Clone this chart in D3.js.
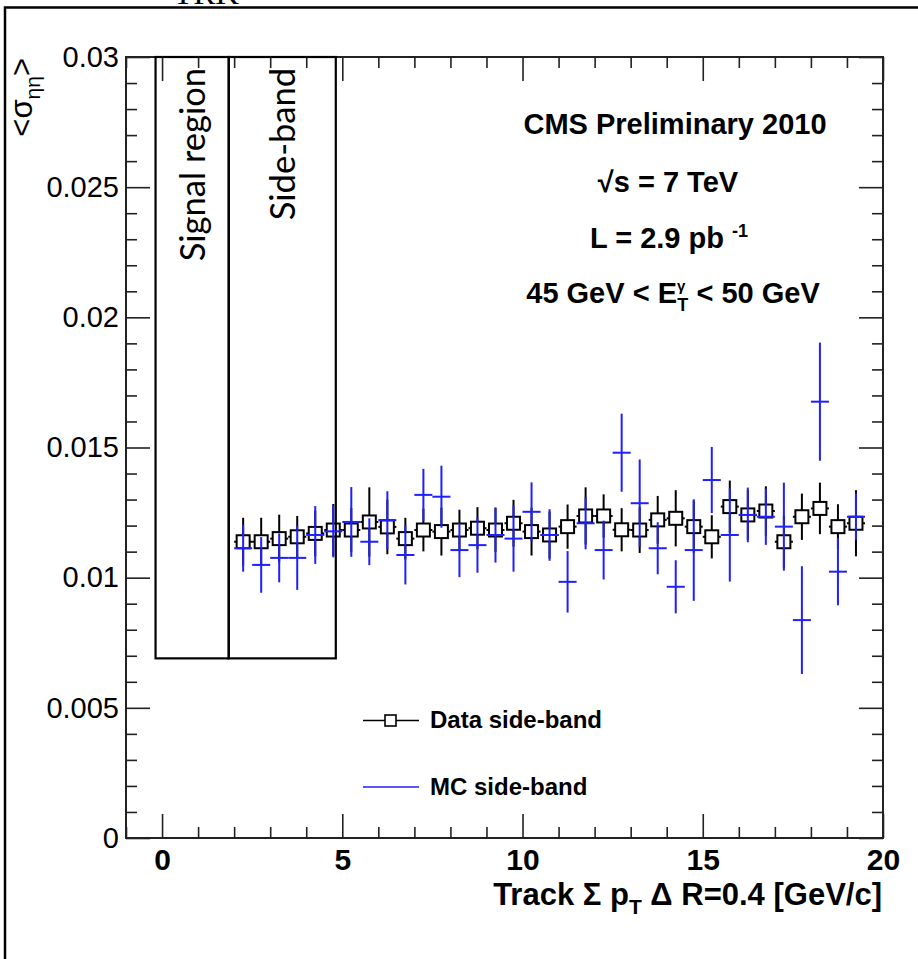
<!DOCTYPE html>
<html>
<head>
<meta charset="utf-8">
<script src="https://cdn.jsdelivr.net/npm/d3@7"></script>
<style>
  html, body { margin: 0; padding: 0; background: #fff; }
  svg { display: block; }
</style>
</head>
<body>
<svg id="chart" width="918" height="959"></svg>
<script>
// Bin centres of the track-isolation histogram [GeV/c]
const binCenters = [2.25, 2.75, 3.25, 3.75, 4.25, 4.75, 5.25, 5.75, 6.25, 6.75,
  7.25, 7.75, 8.25, 8.75, 9.25, 9.75, 10.25, 10.75, 11.25, 11.75,
  12.25, 12.75, 13.25, 13.75, 14.25, 14.75, 15.25, 15.75, 16.25, 16.75,
  17.25, 17.75, 18.25, 18.75, 19.25];
const binHalfWidth = 0.25;

// Data side-band: mean sigma_ieta_ieta and its uncertainty
const dataMean = [0.01138, 0.01138, 0.01150, 0.01157, 0.01170, 0.01183, 0.01183, 0.01214, 0.01195, 0.01150,
  0.01183, 0.01177, 0.01183, 0.01190, 0.01183, 0.01209, 0.01177, 0.01164, 0.01196, 0.01237,
  0.01237, 0.01184, 0.01183, 0.01222, 0.01228, 0.01196, 0.01157, 0.01273, 0.01241, 0.01256,
  0.01138, 0.01234, 0.01266, 0.01196, 0.01209];
const dataErr = [0.00092, 0.00092, 0.00092, 0.00080, 0.00088, 0.00100, 0.00085, 0.00133, 0.00105, 0.00080,
  0.00082, 0.00092, 0.00078, 0.00081, 0.00085, 0.00090, 0.00092, 0.00090, 0.00085, 0.00110,
  0.00083, 0.00083, 0.00088, 0.00092, 0.00108, 0.00100, 0.00083, 0.00100, 0.00095, 0.00095,
  0.00100, 0.00089, 0.00099, 0.00086, 0.00127];

// MC side-band
const mcMean = [0.01113, 0.01049, 0.01076, 0.01076, 0.01164, 0.01178, 0.01214, 0.01138, 0.01221, 0.01087,
  0.01318, 0.01311, 0.01106, 0.01125, 0.01164, 0.01150, 0.01253, 0.01164, 0.00984, 0.01209,
  0.01106, 0.01480, 0.01286, 0.01113, 0.00965, 0.01106, 0.01375, 0.01164, 0.01241, 0.01234,
  0.01196, 0.00837, 0.01676, 0.01023, 0.01234];
const mcErr = [0.00090, 0.00107, 0.00094, 0.00123, 0.00111, 0.00100, 0.00134, 0.00090, 0.00111, 0.00113,
  0.00100, 0.00119, 0.00104, 0.00106, 0.00106, 0.00127, 0.00113, 0.00099, 0.00118, 0.00100,
  0.00113, 0.00150, 0.00168, 0.00100, 0.00102, 0.00195, 0.00127, 0.00179, 0.00105, 0.00108,
  0.00169, 0.00207, 0.00227, 0.00129, 0.00090];

// Axis ticks and labels
const xMajorTicks = [0, 5, 10, 15, 20];
const xTickLabels = ["0", "5", "10", "15", "20"];
const xMinorTicks = [-1, 1, 2, 3, 4, 6, 7, 8, 9, 11, 12, 13, 14, 16, 17, 18, 19];
const yMajorTicks = [0, 0.005, 0.01, 0.015, 0.02, 0.025, 0.03];
const yTickLabels = ["0", "0.005", "0.01", "0.015", "0.02", "0.025", "0.03"];
const yMinorTicks = [0.001, 0.002, 0.003, 0.004, 0.006, 0.007, 0.008, 0.009,
  0.011, 0.012, 0.013, 0.014, 0.016, 0.017, 0.018, 0.019,
  0.021, 0.022, 0.023, 0.024, 0.026, 0.027, 0.028, 0.029];

// Region boxes (x range, lower edge) and labels
const regionNames = ["Signal region", "Side-band"];
const regionX = [[-0.18, 1.85], [1.85, 4.82]];
const regionYmin = 0.0069;

const legendLabels = ["Data side-band", "MC side-band"];

const svg = d3.select("#chart");
const sans = "'Liberation Sans', Arial, Helvetica, sans-serif";
const mcColor = "#1f1fff";

const plot = { left: 126, right: 883, top: 57, bottom: 838 };
const x = d3.scaleLinear().domain([-1, 20]).range([plot.left, plot.right]);
const y = d3.scaleLinear().domain([0, 0.03]).range([plot.bottom, plot.top]);

// Outer slide frame and the clipped title fragment above it
svg.append("rect")
  .attr("x", 5).attr("y", 7.5).attr("width", 1000).attr("height", 1000)
  .attr("fill", "none").attr("stroke", "#000").attr("stroke-width", 2.5);
svg.append("text")
  .attr("x", 173).attr("y", 4)
  .attr("font-family", "'Liberation Serif', 'Times New Roman', serif")
  .attr("font-size", 33).attr("fill", "#000")
  .text("TRK");

// Axes (ROOT style: ticks pointing inwards on all four sides)
function styleAxis(g) {
  g.select(".domain").remove();
  g.selectAll(".tick line").attr("stroke", "#222").attr("stroke-width", 1.6);
}
const xMajorFmt = (d, i) => xTickLabels[i];
const yMajorFmt = (d, i) => yTickLabels[i];

svg.append("g").attr("transform", `translate(0,${plot.bottom})`)
  .call(d3.axisBottom(x).tickValues(xMajorTicks).tickFormat(xMajorFmt)
    .tickSizeInner(-24).tickSizeOuter(0).tickPadding(11))
  .call(styleAxis)
  .call(g => g.selectAll("text").attr("font-family", sans).attr("font-weight", "bold")
    .attr("font-size", 30).attr("fill", "#000"));
svg.append("g").attr("transform", `translate(0,${plot.bottom})`)
  .call(d3.axisBottom(x).tickValues(xMinorTicks).tickFormat("").tickSizeInner(-11).tickSizeOuter(0))
  .call(styleAxis);
svg.append("g").attr("transform", `translate(0,${plot.top})`)
  .call(d3.axisTop(x).tickValues(xMajorTicks).tickFormat("").tickSizeInner(-24).tickSizeOuter(0))
  .call(styleAxis);
svg.append("g").attr("transform", `translate(0,${plot.top})`)
  .call(d3.axisTop(x).tickValues(xMinorTicks).tickFormat("").tickSizeInner(-11).tickSizeOuter(0))
  .call(styleAxis);

svg.append("g").attr("transform", `translate(${plot.left},0)`)
  .call(d3.axisLeft(y).tickValues(yMajorTicks).tickFormat(yMajorFmt)
    .tickSizeInner(-24).tickSizeOuter(0).tickPadding(7))
  .call(styleAxis)
  .call(g => g.selectAll("text").attr("font-family", sans)
    .attr("font-size", 29).attr("fill", "#000"));
svg.append("g").attr("transform", `translate(${plot.left},0)`)
  .call(d3.axisLeft(y).tickValues(yMinorTicks).tickFormat("").tickSizeInner(-11).tickSizeOuter(0))
  .call(styleAxis);
svg.append("g").attr("transform", `translate(${plot.right},0)`)
  .call(d3.axisRight(y).tickValues(yMajorTicks).tickFormat("").tickSizeInner(-24).tickSizeOuter(0))
  .call(styleAxis);
svg.append("g").attr("transform", `translate(${plot.right},0)`)
  .call(d3.axisRight(y).tickValues(yMinorTicks).tickFormat("").tickSizeInner(-11).tickSizeOuter(0))
  .call(styleAxis);

// Plot frame
svg.append("rect")
  .attr("x", plot.left).attr("y", plot.top)
  .attr("width", plot.right - plot.left).attr("height", plot.bottom - plot.top)
  .attr("fill", "none").attr("stroke", "#222").attr("stroke-width", 2);

// Axis titles
const xTitle = svg.append("text")
  .attr("x", 882).attr("y", 905).attr("text-anchor", "end")
  .attr("font-family", sans).attr("font-weight", "bold").attr("font-size", 31).attr("fill", "#000");
xTitle.append("tspan").text("Track \u03a3 p");
xTitle.append("tspan").attr("font-size", 21).attr("dy", 9).text("T");
xTitle.append("tspan").attr("dy", -9).text(" \u0394 R=0.4 [GeV/c]");

const yTitle = svg.append("text")
  .attr("transform", "translate(32,58) rotate(-90)").attr("text-anchor", "end")
  .attr("font-family", sans).attr("font-size", 31).attr("fill", "#000");
yTitle.append("tspan").text("<\u03c3");
yTitle.append("tspan").attr("font-size", 21).attr("dy", 8).text("\u03b7\u03b7");
yTitle.append("tspan").attr("dy", -8).text(">");

// Signal-region and side-band boxes
const regions = regionNames.map((name, i) => ({ name, x0: regionX[i][0], x1: regionX[i][1] }));
svg.selectAll("rect.region").data(regions).join("rect")
  .attr("class", "region")
  .attr("x", d => x(d.x0)).attr("y", y(0.03))
  .attr("width", d => x(d.x1) - x(d.x0)).attr("height", y(regionYmin) - y(0.03))
  .attr("fill", "none").attr("stroke", "#000").attr("stroke-width", 2.2);
svg.selectAll("text.region").data(regions).join("text")
  .attr("class", "region")
  .attr("transform", d => `translate(${(x(d.x0) + x(d.x1)) / 2 + 13},68) rotate(-90)`)
  .attr("text-anchor", "end")
  .attr("font-family", "Lato, 'Open Sans', sans-serif").attr("font-size", 34.5).attr("fill", "#000")
  .text(d => d.name);

// Data side-band points: error bars, then open squares
const half = 6.5;
const dataPts = binCenters.map((c, i) => ({ c, v: dataMean[i], e: dataErr[i] }));
const gData = svg.append("g").attr("stroke", "#000").attr("stroke-width", 2).attr("fill", "none");
const dp = gData.selectAll("g").data(dataPts).join("g");
dp.append("line")
  .attr("x1", d => x(d.c)).attr("x2", d => x(d.c))
  .attr("y1", d => y(d.v + d.e)).attr("y2", d => y(d.v) - half);
dp.append("line")
  .attr("x1", d => x(d.c)).attr("x2", d => x(d.c))
  .attr("y1", d => y(d.v) + half).attr("y2", d => y(d.v - d.e));
dp.append("line")
  .attr("x1", d => x(d.c - binHalfWidth)).attr("x2", d => x(d.c) - half)
  .attr("y1", d => y(d.v)).attr("y2", d => y(d.v));
dp.append("line")
  .attr("x1", d => x(d.c) + half).attr("x2", d => x(d.c + binHalfWidth))
  .attr("y1", d => y(d.v)).attr("y2", d => y(d.v));
dp.append("rect")
  .attr("x", d => x(d.c) - half).attr("y", d => y(d.v) - half)
  .attr("width", 2 * half).attr("height", 2 * half);

// MC side-band: crosses (bin width horizontally, uncertainty vertically)
const mcPts = binCenters.map((c, i) => ({ c, v: mcMean[i], e: mcErr[i] }));
const gMC = svg.append("g").attr("stroke", mcColor).attr("stroke-width", 2);
const mp = gMC.selectAll("g").data(mcPts).join("g");
mp.append("line")
  .attr("x1", d => x(d.c)).attr("x2", d => x(d.c))
  .attr("y1", d => y(d.v + d.e)).attr("y2", d => y(d.v - d.e));
mp.append("line")
  .attr("x1", d => x(d.c - binHalfWidth)).attr("x2", d => x(d.c + binHalfWidth))
  .attr("y1", d => y(d.v)).attr("y2", d => y(d.v));

// Legend
const legend = svg.append("g");
legend.append("line").attr("x1", 363).attr("x2", 419).attr("y1", 720.5).attr("y2", 720.5)
  .attr("stroke", "#000").attr("stroke-width", 1.6);
legend.append("rect").attr("x", 385).attr("y", 715).attr("width", 11).attr("height", 11)
  .attr("fill", "#fff").attr("stroke", "#000").attr("stroke-width", 1.6);
legend.append("line").attr("x1", 363).attr("x2", 419).attr("y1", 787).attr("y2", 787)
  .attr("stroke", mcColor).attr("stroke-width", 1.6);
legend.selectAll("text").data(legendLabels).join("text")
  .attr("x", 430).attr("y", (d, i) => 728 + i * 67)
  .attr("font-family", sans).attr("font-weight", "bold").attr("font-size", 24).attr("fill", "#000")
  .text(d => d);

// Header text block
const info = svg.append("g").attr("font-family", sans).attr("font-weight", "bold")
  .attr("font-size", 29).attr("fill", "#000").attr("text-anchor", "middle");
info.append("text").attr("x", 675).attr("y", 134).text("CMS Preliminary 2010");
info.append("text").attr("x", 668).attr("y", 192).text("\u221as = 7 TeV");
const lumi = info.append("text").attr("x", 669).attr("y", 248);
lumi.append("tspan").text("L = 2.9 pb ");
lumi.append("tspan").attr("font-size", 18).attr("dy", -11).text("-1");
const et = info.append("text").attr("x", 673).attr("y", 303);
et.append("tspan").text("45 GeV < E");
et.append("tspan").attr("font-size", 15).attr("dy", -12).text("\u03b3");
et.append("tspan").attr("font-size", 18).attr("dx", -8).attr("dy", 20).text("T");
et.append("tspan").attr("dy", -8).text(" < 50 GeV");
</script>
</body>
</html>
